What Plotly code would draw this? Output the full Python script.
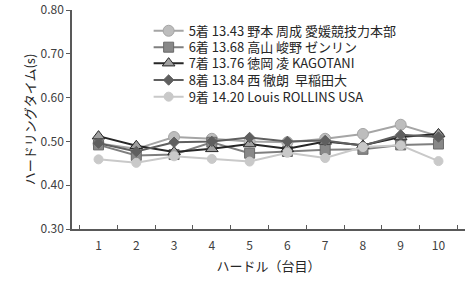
import plotly.graph_objects as go

hurdles = ["1", "2", "3", "4", "5", "6", "7", "8", "9", "10"]

names = [
    "5着 13.43 野本 周成 愛媛競技力本部",
    "6着 13.68 高山 峻野 ゼンリン",
    "7着 13.76 徳岡 凌 KAGOTANI",
    "8着 13.84 西 徹朗  早稲田大",
    "9着 14.20 Louis ROLLINS USA",
]

s5 = [0.495, 0.483, 0.510, 0.506, 0.500, 0.498, 0.506, 0.517, 0.538, 0.512]
s6 = [0.492, 0.468, 0.470, 0.498, 0.473, 0.477, 0.481, 0.482, 0.492, 0.494]
s7 = [0.512, 0.490, 0.476, 0.483, 0.494, 0.483, 0.500, 0.491, 0.510, 0.517]
s8 = [0.496, 0.477, 0.498, 0.500, 0.509, 0.500, 0.502, 0.490, 0.515, 0.510]
s9 = [0.459, 0.451, 0.466, 0.460, 0.454, 0.474, 0.462, 0.487, 0.491, 0.455]

series = [s5, s6, s7, s8, s9]

styles = [
    dict(line=dict(color="#a5a5a5", width=2),
         marker=dict(symbol="circle", size=11, color="#bdbdbd", line=dict(color="#a5a5a5", width=1))),
    dict(line=dict(color="#7f7f7f", width=2),
         marker=dict(symbol="square", size=10, color="#888888", line=dict(color="#6a6a6a", width=1))),
    dict(line=dict(color="#262626", width=2),
         marker=dict(symbol="triangle-up", size=11, color="#a0a0a0", line=dict(color="#262626", width=1))),
    dict(line=dict(color="#5f5f5f", width=2),
         marker=dict(symbol="diamond", size=8, color="#5f5f5f", line=dict(color="#5f5f5f", width=1))),
    dict(line=dict(color="#c9c9c9", width=2),
         marker=dict(symbol="circle", size=9, color="#c9c9c9", line=dict(color="#c9c9c9", width=1))),
]

legend_ids = ["legend", "legend2", "legend3", "legend4", "legend5"]
legend_y = [0.905, 0.830, 0.757, 0.680, 0.604]

fig = go.Figure()
for name, vals, st, lid in zip(names, series, styles, legend_ids):
    fig.add_trace(go.Scatter(x=hurdles, y=vals, name=name, mode="lines+markers",
                             legend=lid, **st))

font_family = "Noto Sans CJK JP, DejaVu Sans, sans-serif"

layout_legends = {}
for lid, ly in zip(legend_ids, legend_y):
    layout_legends[lid] = dict(x=0.195, y=ly, xanchor="left", yanchor="middle",
                               bgcolor="rgba(0,0,0,0)",
                               font=dict(size=13, color="#262626"),
                               itemwidth=30)

fig.update_layout(
    width=470, height=282,
    margin=dict(l=72, r=5, t=10, b=53),
    paper_bgcolor="white", plot_bgcolor="white",
    font=dict(family=font_family, size=12, color="#404040"),
    showlegend=True,
    xaxis=dict(
        type="category", tickson="boundaries", ticks="inside", ticklen=4,
        showline=True, linecolor="#595959", linewidth=1.5, tickcolor="#595959",
        showgrid=False, zeroline=False, automargin=False,
        ticklabelstandoff=5,
        tickfont=dict(size=12, color="#404040"),
        title=dict(text="ハードル（台目）", font=dict(size=13, color="#262626"), standoff=10),
    ),
    yaxis=dict(
        range=[0.30, 0.80], dtick=0.10, tickformat=".2f",
        ticks="outside", ticklen=4,
        showline=True, linecolor="#595959", linewidth=1.5, tickcolor="#595959",
        showgrid=False, zeroline=False, automargin=False,
        tickfont=dict(size=12, color="#404040"),
        title=dict(text="ハードリングタイム(s)", font=dict(size=13, color="#262626"), standoff=2),
    ),
    **layout_legends,
)

fig.write_html("out.html", config={"displayModeBar": False},
               post_script="document.body.style.margin='0';")
